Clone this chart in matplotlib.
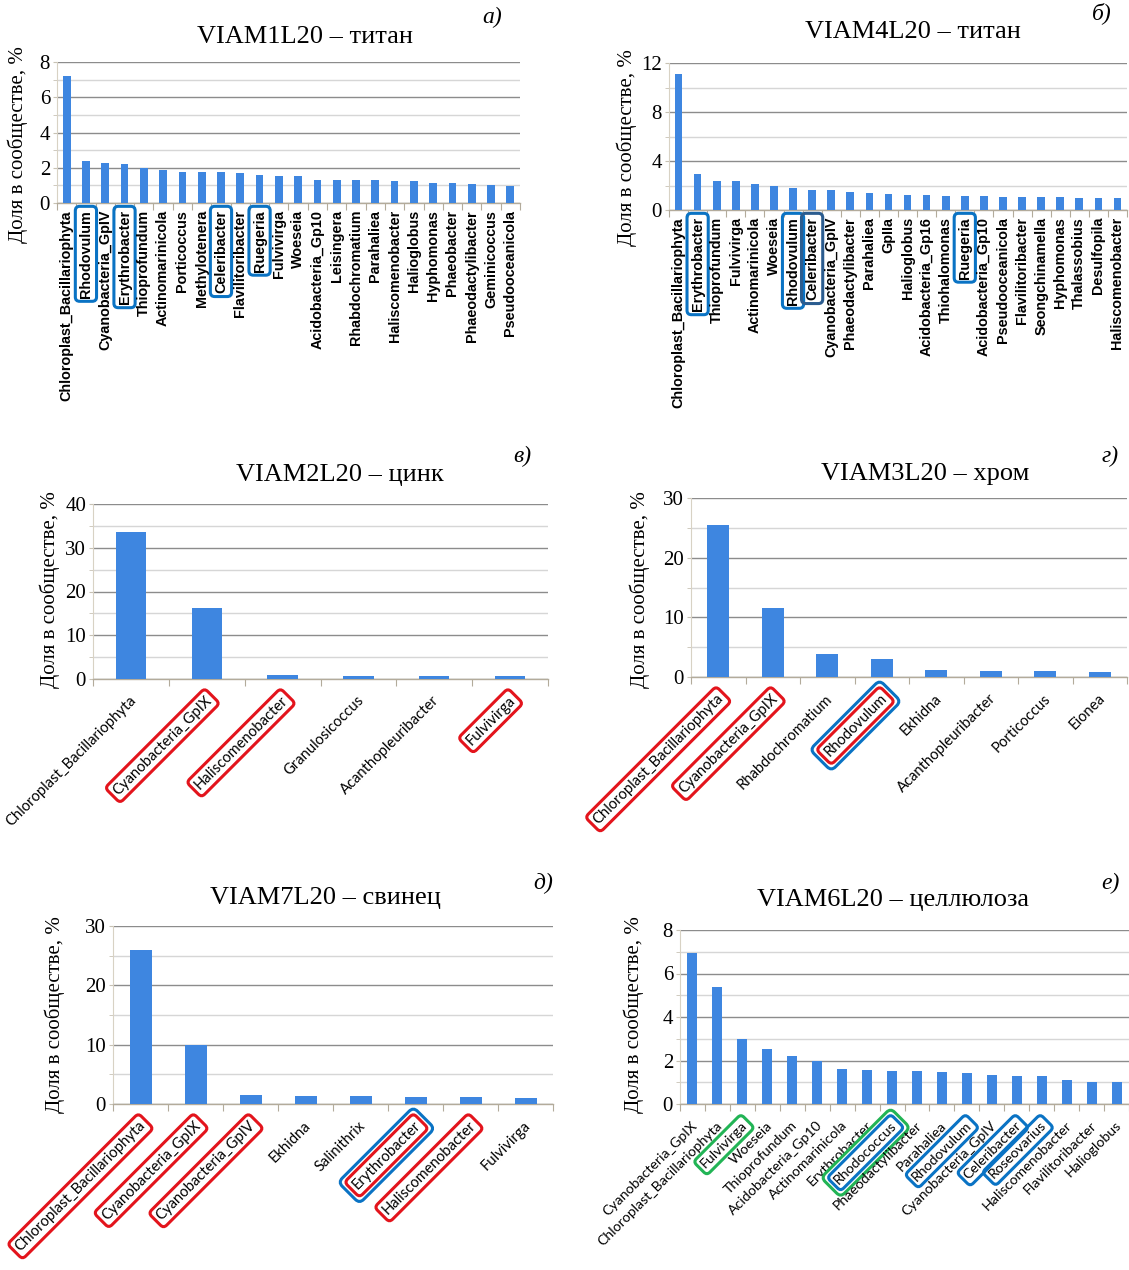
import matplotlib
matplotlib.use("Agg")
import matplotlib.pyplot as plt
from matplotlib.ticker import MultipleLocator, FixedLocator, NullFormatter

# ---------------- data ----------------
cats_a = ["Chloroplast_Bacillariophyta", "Rhodovulum", "Cyanobacteria_GpIV", "Erythrobacter",
          "Thioprofundum", "Actinomarinicola", "Porticoccus", "Methylotenera", "Celeribacter",
          "Flavilitoribacter", "Ruegeria", "Fulvivirga", "Woeseia", "Acidobacteria_Gp10",
          "Leisingera", "Rhabdochromatium", "Parahaliea", "Haliscomenobacter", "Halioglobus",
          "Hyphomonas", "Phaeobacter", "Phaeodactylibacter", "Geminicoccus", "Pseudooceanicola"]
vals_a = [7.2, 2.4, 2.25, 2.2, 2.0, 1.85, 1.75, 1.75, 1.75, 1.72, 1.6, 1.52, 1.52, 1.3,
          1.28, 1.28, 1.28, 1.22, 1.22, 1.15, 1.12, 1.1, 1.02, 0.98]
boxes_a = {"Rhodovulum": ["blue"], "Erythrobacter": ["blue"], "Celeribacter": ["blue"],
           "Ruegeria": ["blue"]}

cats_b = ["Chloroplast_Bacillariophyta", "Erythrobacter", "Thioprofundum", "Fulvivirga",
          "Actinomarinicola", "Woeseia", "Rhodovulum", "Celeribacter", "Cyanobacteria_GpIV",
          "Phaeodactylibacter", "Parahaliea", "GpIIa", "Halioglobus", "Acidobacteria_Gp16",
          "Thiohalomonas", "Ruegeria", "Acidobacteria_Gp10", "Pseudooceanicola",
          "Flavilitoribacter", "Seongchinamella", "Hyphomonas", "Thalassobius", "Desulfopila",
          "Haliscomenobacter"]
vals_b = [11.1, 2.9, 2.4, 2.35, 2.1, 2.0, 1.8, 1.6, 1.6, 1.5, 1.4, 1.3, 1.2, 1.2,
          1.15, 1.15, 1.15, 1.1, 1.1, 1.05, 1.05, 0.95, 0.95, 0.95]
boxes_b = {"Erythrobacter": ["blue"], "Rhodovulum": ["blue"], "Celeribacter": ["navy"],
           "Ruegeria": ["blue"]}

cats_c = ["Chloroplast_Bacillariophyta", "Cyanobacteria_GpIX", "Haliscomenobacter",
          "Granulosicoccus", "Acanthopleuribacter", "Fulvivirga"]
vals_c = [33.5, 16.2, 1.0, 0.8, 0.8, 0.8]
boxes_c = {"Cyanobacteria_GpIX": ["red"], "Haliscomenobacter": ["red"], "Fulvivirga": ["red"]}

cats_d = ["Chloroplast_Bacillariophyta", "Cyanobacteria_GpIX", "Rhabdochromatium",
          "Rhodovulum", "Ekhidna", "Acanthopleuribacter", "Porticoccus", "Eionea"]
vals_d = [25.5, 11.6, 3.8, 3.1, 1.1, 1.0, 1.0, 0.9]
boxes_d = {"Chloroplast_Bacillariophyta": ["red"], "Cyanobacteria_GpIX": ["red"],
           "Rhodovulum": ["red", "blue"]}

cats_e = ["Chloroplast_Bacillariophyta", "Cyanobacteria_GpIX", "Cyanobacteria_GpIV",
          "Ekhidna", "Salinithrix", "Erythrobacter", "Haliscomenobacter", "Fulvivirga"]
vals_e = [25.9, 9.9, 1.6, 1.4, 1.35, 1.2, 1.1, 1.0]
boxes_e = {"Chloroplast_Bacillariophyta": ["red"], "Cyanobacteria_GpIX": ["red"],
           "Cyanobacteria_GpIV": ["red"], "Erythrobacter": ["red", "blue"],
           "Haliscomenobacter": ["red"]}

cats_f = ["Cyanobacteria_GpIX", "Chloroplast_Bacillariophyta", "Fulvivirga", "Woeseia",
          "Thioprofundum", "Acidobacteria_Gp10", "Actinomarinicola", "Erythrobacter",
          "Rhodococcus", "Phaeodactylibacter", "Parahaliea", "Rhodovulum",
          "Cyanobacteria_GpIV", "Celeribacter", "Roseovarius", "Haliscomenobacter",
          "Flavilitoribacter", "Halioglobus"]
vals_f = [6.95, 5.4, 3.0, 2.55, 2.2, 2.0, 1.6, 1.55, 1.52, 1.52, 1.45, 1.42, 1.35, 1.3,
          1.28, 1.12, 1.0, 1.0]
boxes_f = {"Fulvivirga": ["green"], "Rhodococcus": ["blue", "green"], "Rhodovulum": ["blue"],
           "Celeribacter": ["blue"], "Roseovarius": ["blue"]}

titles = ["VIAM1L20 – титан", "VIAM4L20 – титан", "VIAM2L20 – цинк",
          "VIAM3L20 – хром", "VIAM7L20 – свинец", "VIAM6L20 – целлюлоза"]
letters = ["а)", "б)", "в)", "г)", "д)", "е)"]
ylabel = "Доля в сообществе, %"

# ---------------- style ----------------
W, H = 1129, 1270
fig = plt.figure(figsize=(W / 100, H / 100), dpi=100)
fig.patch.set_facecolor("white")

BAR = "#3E86E0"
COLORS = {"blue": "#0A73C4", "navy": "#2B5C8F", "red": "#E3141C", "green": "#22B455"}
SERIF = "Liberation Serif"
SANS = "Lato"
SANS_BOLD = "Liberation Sans"


def px(x, y):
    return x / W, 1 - y / H


def panel(rect, cats, vals, ymax, major, minor, boxes, vertical, title, title_xy,
          letter, letter_xy, ylab_xy, lab_size):
    l, r, t, b = rect
    ax = fig.add_axes([l / W, 1 - b / H, (r - l) / W, (b - t) / H])
    n = len(cats)
    x = list(range(n))
    ax.bar(x, vals, width=0.4, color=BAR, zorder=3)
    ax.set_xlim(-0.5, n - 0.5)
    ax.set_ylim(0, ymax)
    ax.yaxis.set_major_locator(MultipleLocator(major))
    ax.yaxis.set_minor_locator(MultipleLocator(minor))
    ax.grid(which="major", axis="y", color="#8c8c8c", lw=1.0, zorder=0)
    ax.grid(which="minor", axis="y", color="#d6d6d6", lw=1.0, zorder=0)
    ax.set_axisbelow(True)
    for s in ("top", "right"):
        ax.spines[s].set_visible(False)
    ax.spines["left"].set_color("#d8d2c4")
    ax.spines["bottom"].set_color("#b3ab9b")
    ax.spines["bottom"].set_linewidth(1.0)
    ax.xaxis.set_major_locator(FixedLocator([i - 0.5 for i in range(n + 1)]))
    ax.xaxis.set_major_formatter(NullFormatter())
    ax.tick_params(axis="x", length=5, color="#b3ab9b", direction="out")
    ax.tick_params(axis="y", which="both", length=3, color="#c8c2b4", pad=2)
    for lab in ax.get_yticklabels():
        lab.set_fontfamily(SERIF)
        lab.set_fontsize(15)

    for i, c in enumerate(cats):
        cols = boxes.get(c, [])
        if vertical:
            kw = dict(xy=(i, 0), xycoords=("data", "axes fraction"), xytext=(0, -5),
                      textcoords="offset points", rotation=90, ha="center", va="top",
                      fontsize=lab_size, fontweight="bold", family=SANS_BOLD)
        else:
            kw = dict(xy=(i, 0), xycoords=("data", "axes fraction"), xytext=(2, -14),
                      textcoords="offset points", rotation=45, rotation_mode="anchor",
                      ha="right", va="center", fontsize=lab_size, family=SANS)
        if cols:
            ax.annotate(c, color="black",
                        bbox=dict(boxstyle="round,pad=0.25,rounding_size=0.3", fc="none",
                                  ec=COLORS[cols[0]], lw=2.2), **kw)
            for k, col in enumerate(cols[1:]):
                ax.annotate(c, color="none",
                            bbox=dict(boxstyle="round,pad=%.2f,rounding_size=0.4" % (0.55 + 0.28 * k),
                                      fc="none", ec=COLORS[col], lw=2.2), **kw)
        else:
            ax.annotate(c, color="black", **kw)

    fig.text(*px(*title_xy), title, family=SERIF, fontsize=19, ha="center", va="center")
    fig.text(*px(*letter_xy), letter, family=SERIF, style="italic", fontsize=17,
             ha="center", va="center")
    fig.text(*px(*ylab_xy), ylabel, family=SERIF, fontsize=15, rotation=90,
             ha="center", va="center")
    return ax


panel((57, 520, 62, 203), cats_a, vals_a, 8, 2, 1, boxes_a, True, titles[0], (305, 37),
      letters[0], (492, 17), (18, 145), 10.4)
panel((669, 1127, 63, 210), cats_b, vals_b, 12, 4, 2, boxes_b, True, titles[1], (913, 32),
      letters[1], (1102, 13), (627, 148), 10.4)
panel((93, 548, 504, 679), cats_c, vals_c, 40, 10, 5, boxes_c, False, titles[2], (340, 475),
      letters[2], (522, 456), (50, 590), 10.6)
panel((691, 1127, 498, 677), cats_d, vals_d, 30, 10, 5, boxes_d, False, titles[3], (925, 474),
      letters[3], (1110, 456), (640, 590), 10.6)
panel((113, 553, 926, 1104), cats_e, vals_e, 30, 10, 5, boxes_e, False, titles[4], (325, 898),
      letters[4], (543, 883), (55, 1015), 10.6)
panel((680, 1129, 930, 1104), cats_f, vals_f, 8, 2, 1, boxes_f, False, titles[5], (893, 900),
      letters[5], (1110, 883), (634, 1015), 10.2)

fig.savefig("out.png", dpi=100, facecolor="white")
